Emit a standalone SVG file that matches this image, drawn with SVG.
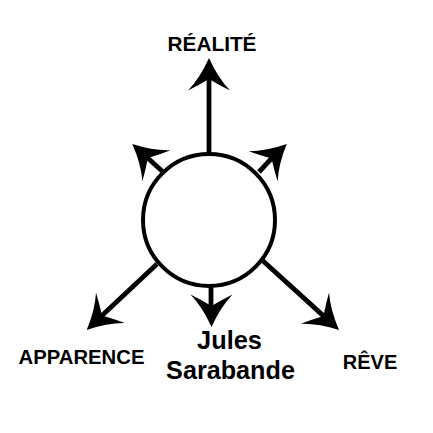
<svg xmlns="http://www.w3.org/2000/svg" xmlns:xlink="http://www.w3.org/1999/xlink" width="433" height="433" viewBox="0 0 433 433">
<style>
.shaft{stroke:#000;stroke-width:4.8;fill:none;stroke-linecap:butt}
.node{fill:#fff;stroke:#000;stroke-width:4}
.lbl{font-family:"Liberation Sans",Arial,sans-serif;font-weight:bold;fill:#000;text-anchor:middle}
</style>
<defs>
<path id="head" d="M0,0 Q-20,9 -32.5,21 Q-27,10 -21,0 Q-27,-10 -32.5,-21 Q-20,-9 0,0 Z" fill="#000"/>
</defs>
<rect width="433" height="433" fill="#fff"/>
<g id="connectors">
<line class="shaft" x1="209" y1="156" x2="209" y2="78"/>
<line class="shaft" x1="163" y1="172" x2="147.5" y2="157.8"/>
<line class="shaft" x1="259" y1="172" x2="271.8" y2="158.2"/>
<line class="shaft" x1="157" y1="264" x2="101.5" y2="316"/>
<line class="shaft" x1="211" y1="284" x2="211" y2="307"/>
<line class="shaft" x1="262" y1="260" x2="324" y2="316.4"/>
<use xlink:href="#head" transform="translate(209,58) rotate(-90)"/>
<use xlink:href="#head" transform="translate(132.3,144) rotate(-138)"/>
<use xlink:href="#head" transform="translate(286.7,144) rotate(-43.6)"/>
<use xlink:href="#head" transform="translate(86.7,330) rotate(136.8)"/>
<use xlink:href="#head" transform="translate(211.5,327) rotate(90)"/>
<use xlink:href="#head" transform="translate(339,330) rotate(42.2)"/>
</g>
<g id="center">
<circle class="node" cx="209" cy="220" r="66"/>
</g>
<g id="realite"><text class="lbl" x="212" y="51" font-size="20.8">RÉALITÉ</text></g>
<g id="apparence"><text class="lbl" x="81.5" y="364" font-size="20.3">APPARENCE</text></g>
<g id="reve"><text class="lbl" x="370" y="369" font-size="20">RÊVE</text></g>
<g id="jules"><text class="lbl" x="229.5" y="349" font-size="25.4">Jules</text>
<text class="lbl" x="230.5" y="379" font-size="25.2">Sarabande</text></g>
</svg>
